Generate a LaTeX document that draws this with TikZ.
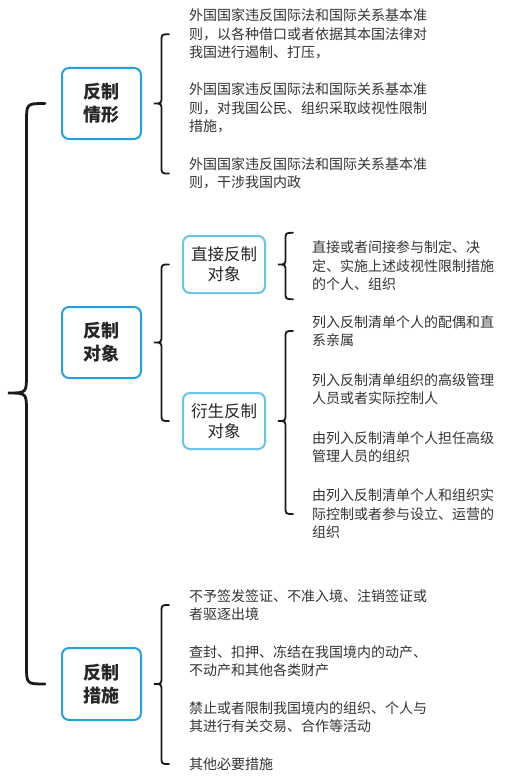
\documentclass[tikz,border=0pt]{standalone}
\usepackage{xcolor}
\usepackage{fontspec}
\usepackage{tikz}
\usetikzlibrary{calc}
\newfontfamily\cjk{Noto Sans CJK SC}

\definecolor{mainblue}{HTML}{21A0E2}
\definecolor{subblue}{HTML}{6BC3E6}
\definecolor{itemgray}{HTML}{333333}
\definecolor{braceblack}{HTML}{1A1A1A}

\tikzset{
  mainbox/.style={draw=mainblue, line width=2pt, rounded corners=7pt, fill=white,
    minimum width=79pt, minimum height=71pt, align=center, text=black!85,
    font=\cjk\bfseries\fontsize{18}{23}\selectfont},
  subbox/.style={draw=subblue, line width=2pt, rounded corners=7pt, fill=white,
    minimum width=82pt, minimum height=57pt, align=center, text=black!85,
    font=\cjk\fontsize{16.5}{20}\selectfont},
  item/.style={anchor=west, align=left, inner sep=0pt, text=itemgray,
    font=\cjk\fontsize{14}{18.5}\selectfont},
  bracket/.style={draw=braceblack, line width=1.8pt, line cap=round},
}

% #1 tip, #2 top end, #3 bottom end, #4 half width of the brace
\newcommand{\bracefork}[5][]{%
  \draw[bracket,#1] let \p0=(#2), \p1=(#3), \p2=(#4) in
    (\x0+2*#5,\y1) .. controls (\x0+#5,\y1) .. (\x0+#5,\y1-#5)
    -- (\x0+#5,\y0+#5) .. controls (\x0+#5,\y0) .. (\x0,\y0)
    .. controls (\x0+#5,\y0) .. (\x0+#5,\y0-#5)
    -- (\x0+#5,\y2+#5) .. controls (\x0+#5,\y2) .. (\x0+2*#5,\y2);}

\begin{document}
\begin{tikzpicture}[x=1pt,y=-1pt]
\useasboundingbox (0,0) rectangle (514,784);

\coordinate (root) at (8,393);

% first level
\node[mainbox] (sit) at (101.5,103.5) {反制\\情形};
\node[mainbox] (obj) at (101.5,342.5) {反制\\对象};
\node[mainbox, minimum height=72pt] (mea) at (101.5,684) {反制\\措施};

% second level
\node[subbox] (direct) at (224,264.5) {直接反制\\对象};
\node[subbox, minimum height=56pt] (derived) at (224,421) {衍生反制\\对象};

% situations
\node[item] (s1) at (189,34.3) {外国国家违反国际法和国际关系基本准\\则，以各种借口或者依据其本国法律对\\我国进行遏制、打压，};
\node[item] (s2) at (189,108.3) {外国国家违反国际法和国际关系基本准\\则，对我国公民、组织采取歧视性限制\\措施，};
\node[item] (s3) at (189,173.5) {外国国家违反国际法和国际关系基本准\\则，干涉我国内政};

% objects
\node[item, inner ysep=8pt] (d1) at (312,266) {直接或者间接参与制定、决\\定、实施上述歧视性限制措施\\的个人、组织};
\node[item] (e1) at (312,331) {列入反制清单个人的配偶和直\\系亲属};
\node[item] (e2) at (312,389) {列入反制清单组织的高级管理\\人员或者实际控制人};
\node[item] (e3) at (312,447) {由列入反制清单个人担任高级\\管理人员的组织};
\node[item] (e4) at (312,514) {由列入反制清单个人和组织实\\际控制或者参与设立、运营的\\组织};

% measures
\node[item] (m1) at (189,605) {不予签发签证、不准入境、注销签证或\\者驱逐出境};
\node[item] (m2) at (189,661) {查封、扣押、冻结在我国境内的动产、\\不动产和其他各类财产};
\node[item] (m3) at (189,717) {禁止或者限制我国境内的组织、个人与\\其进行有关交易、合作等活动};
\node[item] (m4) at (189,764) {其他必要措施};

% braces
\bracefork[line width=2.8pt]{root}{sit.west}{mea.west}{18.5pt}
\bracefork{$(sit.east)+(12,0)$}{s1.west}{s3.west}{7.5pt}
\bracefork{$(obj.east)+(12,0)$}{direct.west}{derived.west}{7.5pt}
\bracefork{$(direct.east)+(12,0)$}{d1.north west}{d1.south west}{7.5pt}
\bracefork{$(derived.east)+(12,0)$}{e1.west}{e4.west}{7.5pt}
\bracefork{$(mea.east)+(12,0)$}{m1.west}{m4.west}{7.5pt}
\end{tikzpicture}
\end{document}
